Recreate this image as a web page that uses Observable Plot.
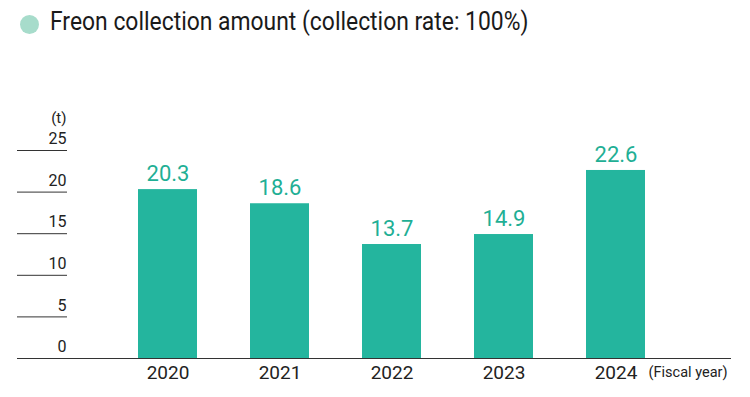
<!DOCTYPE html>
<html>
<head>
<meta charset="utf-8">
<script src="https://cdn.jsdelivr.net/npm/d3@7"></script>
<script src="https://cdn.jsdelivr.net/npm/@observablehq/plot@0.6"></script>
<style>
  html, body { margin: 0; padding: 0; background: #fff; }
  body { width: 750px; height: 397px; overflow: hidden; font-family: "Roboto", sans-serif; }
  #title { height: 50px; position: relative; }
  #title .dot { position: absolute; left: 20px; top: 15px; width: 19px; height: 19px; border-radius: 50%; background: #a7dccb; }
  #title .txt { position: absolute; left: 50px; top: 6px; font-size: 26px; color: #1a1a1a; white-space: nowrap; transform: scaleX(0.88); transform-origin: 0 50%; }
  svg { display: block; }
</style>
</head>
<body>
<div id="title"><span class="dot"></span><span class="txt">Freon collection amount (collection rate: 100%)</span></div>
<div id="chart"></div>
<script>
const years = ["2020", "2021", "2022", "2023", "2024"];
const amounts = [20.3, 18.6, 13.7, 14.9, 22.6];
const yTicks = [0, 5, 10, 15, 20, 25];
const unitLabel = "(t)";
const xLabel = "(Fiscal year)";

const data = years.map((year, i) => ({year, value: amounts[i]}));

const chart = Plot.plot({
  width: 750,
  height: 347,
  marginTop: 100,
  marginBottom: 39,
  marginLeft: 17,
  marginRight: 19,
  style: { fontFamily: '"Roboto", sans-serif', color: "#222", background: "#fff" },
  x: { domain: years, range: [82.5, 700.6], padding: 0.47, axis: null },
  y: { domain: [0, 25], axis: null },
  marks: [
    Plot.barY(data, { x: "year", y: "value", fill: "#24b59e" }),
    Plot.axisY({ ticks: yTicks, anchor: "left", tickSize: -50, tickFormat: () => "", stroke: "#333", label: null }),
    Plot.axisY({ ticks: yTicks, anchor: "left", tickSize: 0, tickPadding: -49, dy: -11.5, fontSize: 16, tickFormat: d => String(d), label: null }),
    Plot.ruleY([0], { stroke: "#333", strokeWidth: 1 }),
    Plot.axisX({ tickSize: 0, tickPadding: 7, fontSize: 19, label: null }),
    Plot.text(data, { x: "year", y: "value", text: d => d.value.toFixed(1), dy: -16, fontSize: 22, fill: "#1faf95" }),
    Plot.text([unitLabel], { frameAnchor: "top-left", dx: 49, dy: -38.5, textAnchor: "end", fontSize: 15, fill: "#222" }),
    Plot.text([xLabel], { frameAnchor: "bottom-right", dx: -4, dy: 18, textAnchor: "end", fontSize: 14.5, fill: "#222" })
  ]
});
document.getElementById("chart").appendChild(chart);
</script>
</body>
</html>
